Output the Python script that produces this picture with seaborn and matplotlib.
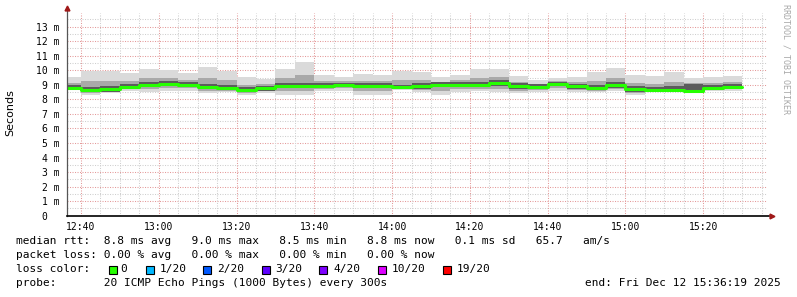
import matplotlib
matplotlib.use("Agg")
import matplotlib.pyplot as plt
import matplotlib.patches as mpatches
import numpy as np
import pandas as pd
import seaborn as sns

# ---------------- data (milliseconds) ----------------
bin_times = ["12:35", "12:40", "12:45", "12:50", "12:55", "13:00", "13:05", "13:10",
             "13:15", "13:20", "13:25", "13:30", "13:35", "13:40", "13:45", "13:50",
             "13:55", "14:00", "14:05", "14:10", "14:15", "14:20", "14:25", "14:30",
             "14:35", "14:40", "14:45", "14:50", "14:55", "15:00", "15:05", "15:10",
             "15:15", "15:20", "15:25"]
data_end_time = "15:30"

median_ms = [8.80, 8.65, 8.69, 8.87, 8.99, 9.06, 8.97, 8.87, 8.78, 8.62, 8.76, 8.92,
             8.92, 8.92, 8.99, 8.92, 8.92, 8.83, 8.90, 8.99, 8.99, 9.02, 9.10, 8.90,
             8.85, 9.06, 8.90, 8.78, 8.97, 8.69, 8.65, 8.67, 8.60, 8.78, 8.83]
smoke_max = [9.54, 9.97, 9.97, 9.81, 10.07, 10.02, 9.81, 10.25, 9.97, 9.51, 9.40, 10.09,
             10.55, 9.68, 9.56, 9.75, 9.68, 9.97, 9.90, 9.51, 9.68, 10.07, 10.09, 9.61,
             9.33, 9.45, 9.51, 9.90, 10.13, 9.68, 9.61, 9.90, 9.45, 9.51, 9.61]
smoke_min = [8.62, 8.32, 8.42, 8.56, 8.50, 8.58, 8.60, 8.42, 8.50, 8.32, 8.42, 8.30,
             8.30, 8.60, 8.60, 8.32, 8.32, 8.65, 8.50, 8.32, 8.50, 8.56, 8.50, 8.42,
             8.50, 8.56, 8.50, 8.50, 8.56, 8.32, 8.56, 8.56, 8.42, 8.60, 8.60]
smoke_mid_hi = [9.13, 9.24, 9.27, 9.29, 9.48, 9.49, 9.35, 9.49, 9.32, 9.02, 9.05, 9.45,
                9.65, 9.26, 9.25, 9.29, 9.26, 9.34, 9.35, 9.22, 9.30, 9.49, 9.54, 9.22,
                9.07, 9.24, 9.17, 9.28, 9.49, 9.14, 9.08, 9.22, 9.15, 9.11, 9.18]
smoke_mid_lo = [8.69, 8.45, 8.53, 8.68, 8.70, 8.77, 8.75, 8.60, 8.61, 8.44, 8.56, 8.55,
                8.55, 8.73, 8.76, 8.56, 8.56, 8.72, 8.66, 8.59, 8.70, 8.74, 8.74, 8.61,
                8.64, 8.76, 8.66, 8.61, 8.72, 8.47, 8.60, 8.60, 8.49, 8.67, 8.69]
smoke_in_hi = [9.00, 8.87, 8.90, 9.07, 9.19, 9.25, 9.17, 9.09, 8.99, 8.82, 8.94, 9.12,
               9.12, 9.10, 9.16, 9.11, 9.10, 9.02, 9.10, 9.17, 9.18, 9.22, 9.30, 9.10,
               9.03, 9.22, 9.08, 8.99, 9.17, 8.90, 8.87, 8.95, 9.05, 8.97, 9.03]
smoke_in_lo = [8.66, 8.50, 8.54, 8.72, 8.83, 8.90, 8.82, 8.70, 8.63, 8.48, 8.61, 8.76,
               8.76, 8.78, 8.84, 8.76, 8.76, 8.69, 8.74, 8.82, 8.84, 8.86, 8.94, 8.74,
               8.70, 8.90, 8.74, 8.63, 8.81, 8.52, 8.53, 8.54, 8.46, 8.65, 8.70]

y_tick_values = list(range(0, 14))
y_tick_labels = ["0  "] + [f"{v} m" for v in range(1, 14)]
x_tick_labels = ["12:40", "13:00", "13:20", "13:40", "14:00", "14:20", "14:40", "15:00", "15:20"]
window_start = "12:36:19"
window_end = "15:36:19"

stats_line = "median rtt:  8.8 ms avg   9.0 ms max   8.5 ms min   8.8 ms now   0.1 ms sd   65.7   am/s"
loss_line = "packet loss: 0.00 % avg   0.00 % max   0.00 % min   0.00 % now"
probe_line = "probe:       20 ICMP Echo Pings (1000 Bytes) every 300s"
end_line = "end: Fri Dec 12 15:36:19 2025"
loss_labels = ["0", "1/20", "2/20", "3/20", "4/20", "10/20", "19/20"]
loss_colors = ["#26ff00", "#00b8ff", "#0059ff", "#5e00ff", "#7e00ff", "#dd00ff", "#ff0000"]


def to_min(s):
    parts = [int(p) for p in s.split(":")]
    m = (parts[0] - 12) * 60 + parts[1]
    if len(parts) > 2:
        m += parts[2] / 60.0
    return m


x_start = [to_min(t) for t in bin_times]
x_edges = x_start + [to_min(data_end_time)]


def ext(a):
    return list(a) + [a[-1]]


df = pd.DataFrame({"t": x_edges, "median": ext(median_ms)})

# ---------------- figure ----------------
sns.set_theme(style="white")
plt.rcParams["font.family"] = ["DejaVu Sans Mono", "DejaVu Sans"]

W, H = 797, 297
fig = plt.figure(figsize=(W / 100, H / 100), dpi=100, facecolor="white")
ax_left, ax_bottom_px, ax_w, ax_top_px = 66.7, 215.7, 700.0, 13.0
ax = fig.add_axes([ax_left / W, 1 - ax_bottom_px / H, ax_w / W, (ax_bottom_px - ax_top_px) / H])
ax.set_facecolor("white")

xmin, xmax = to_min(window_start), to_min(window_end)
ymax = 13.94
ax.set_xlim(xmin, xmax)
ax.set_ylim(0, ymax)

# grid
minor_c, major_c = "#cfcfcf", "#e49a9a"
dash = (0, (1.0, 1.4))
for v in np.arange(0.5, ymax, 0.5):
    is_major = abs(v - round(v)) < 1e-6
    ax.axhline(v, color=major_c if is_major else minor_c, lw=0.75, ls=dash, zorder=0.5)
for t in range(40, 220, 5):
    is_major = (t % 20 == 0)
    ax.axvline(t, color=major_c if is_major else minor_c, lw=0.75, ls=dash, zorder=0.5)

# smoke
ax.fill_between(x_edges, ext(smoke_min), ext(smoke_max), step="post", color="#dadada", lw=0, zorder=1)
ax.fill_between(x_edges, ext(smoke_mid_lo), ext(smoke_mid_hi), step="post", color="#a9a9a9", lw=0, zorder=1.1)
ax.fill_between(x_edges, ext(smoke_in_lo), ext(smoke_in_hi), step="post", color="#5c5c5c", lw=0, zorder=1.2)

# median
sns.lineplot(data=df, x="t", y="median", drawstyle="steps-post", color="#26ff00",
             linewidth=2.2, estimator=None, sort=False, ax=ax, zorder=2)

# axes styling
for s in ["top", "right"]:
    ax.spines[s].set_visible(False)
ax.spines["left"].set_color("#555555")
ax.spines["left"].set_linewidth(0.9)
ax.spines["bottom"].set_color("black")
ax.spines["bottom"].set_linewidth(1.2)
ax.spines["left"].set_bounds(0, ymax + 0.3)
ax.spines["bottom"].set_bounds(xmin, xmax + 0.6)

ax.set_yticks(y_tick_values)
ax.set_yticklabels(y_tick_labels, fontsize=7, family="DejaVu Sans Mono", color="black")
ax.set_xticks([to_min(t) for t in x_tick_labels])
ax.set_xticklabels(x_tick_labels, fontsize=7, family="DejaVu Sans Mono", color="black")
ax.tick_params(axis="y", length=0, pad=5)
ax.tick_params(axis="x", length=0, pad=4.5)
ax.set_xlabel("")
ax.set_ylabel("")

# arrows
ax.plot([xmin], [ymax + 0.35], marker="^", color="#a01818", markersize=3.5, clip_on=False, zorder=5)
ax.plot([xmax + 1.3], [0], marker=">", color="#a01818", markersize=3.5, clip_on=False, zorder=5)

# y label & watermark
fig.text(10 / W, 1 - 113 / H, "Seconds", rotation=90, ha="center", va="center",
         fontsize=8, family="DejaVu Sans", color="black")
fig.text(786 / W, 1 - 4 / H, "RRDTOOL / TOBI OETIKER", rotation=270, ha="center", va="top",
         fontsize=6, family="DejaVu Sans Mono", color="#a8a8a8")

# legend text
fs = 8
fig.text(16 / W, 1 - 241 / H, stats_line, fontsize=fs, va="center", ha="left", color="black")
fig.text(16 / W, 1 - 255 / H, loss_line, fontsize=fs, va="center", ha="left", color="black")
fig.text(16 / W, 1 - 269 / H, "loss color:", fontsize=fs, va="center", ha="left", color="black")
box_x = [109, 146, 203, 261.5, 319, 377.5, 442.5]
lab_x = [120, 160, 217, 275.3, 333.3, 391.3, 456.7]
for bx, lx, lab, col in zip(box_x, lab_x, loss_labels, loss_colors):
    fig.patches.append(mpatches.Rectangle((bx / W, 1 - 273.5 / H), 8 / W, 8 / H,
                                          transform=fig.transFigure, facecolor=col,
                                          edgecolor="black", lw=0.8))
    fig.text(lx / W, 1 - 269 / H, lab, fontsize=fs, va="center", ha="left", color="black")
fig.text(16 / W, 1 - 283 / H, probe_line, fontsize=fs, va="center", ha="left", color="black")
fig.text(781 / W, 1 - 283 / H, end_line, fontsize=fs, va="center", ha="right", color="black")

fig.savefig("out.png", dpi=100, facecolor="white")
